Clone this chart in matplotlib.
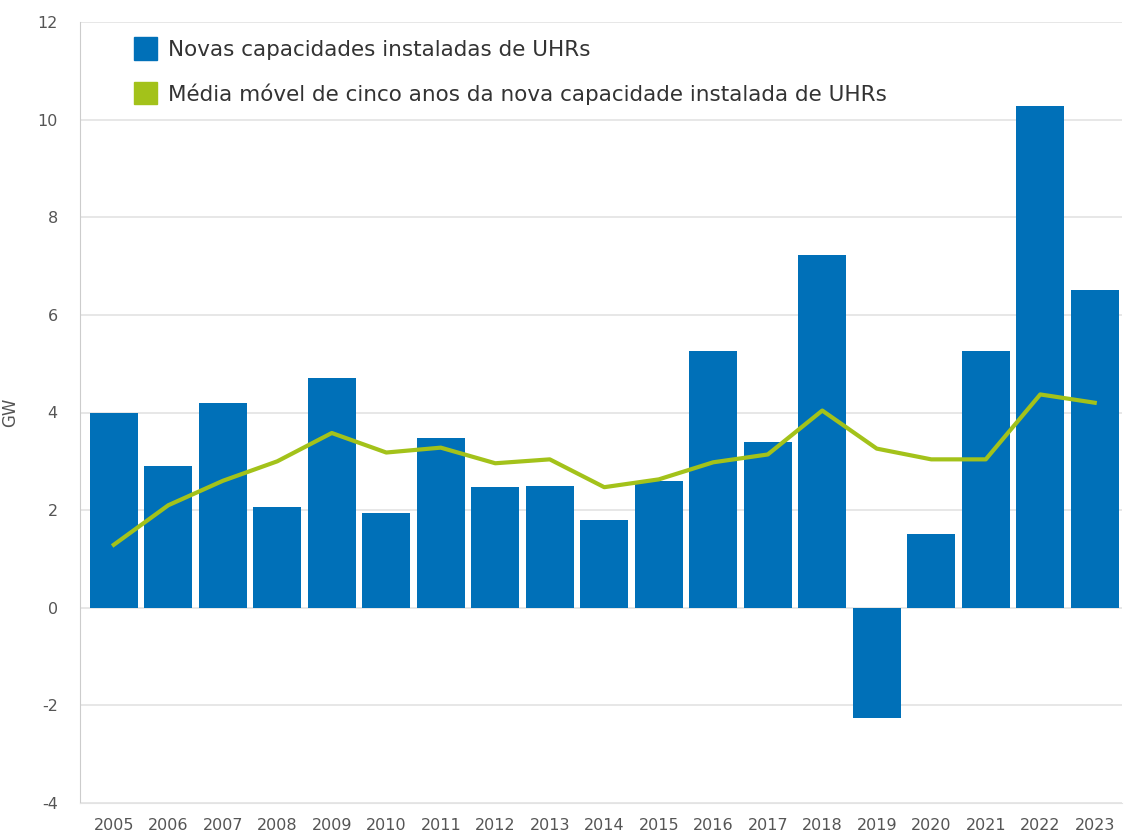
import matplotlib.pyplot as plt
import numpy as np

years = [str(y) for y in range(2005, 2024)]
new_capacity = [4.0, 2.9, 4.2, 2.06, 4.7, 1.94, 3.47, 2.47, 2.5, 1.8,
                2.6, 5.25, 3.4, 7.22, -2.25, 1.52, 5.25, 10.28, 6.5]
moving_avg = [1.29, 2.1, 2.6, 3.0, 3.58, 3.18, 3.28, 2.96, 3.04, 2.47,
              2.63, 2.98, 3.14, 4.04, 3.26, 3.04, 3.04, 4.37, 4.2]
legend_labels = ['Novas capacidades instaladas de UHRs',
                 'Média móvel de cinco anos da nova capacidade instalada de UHRs']

bar_color = '#0070b8'
line_color = '#a3c21a'
text_color = '#555555'

plt.rcParams['font.family'] = ['DejaVu Sans']
plt.rcParams['axes.unicode_minus'] = False

fig = plt.figure(figsize=(11.26, 8.34), dpi=100)
ax = fig.add_axes([80 / 1126, 1 - 803 / 834, 1042 / 1126, 781 / 834])

x = np.arange(len(years))
ax.bar(x, new_capacity, width=0.88, color=bar_color, zorder=2)
ax.plot(x, moving_avg, color=line_color, linewidth=3, zorder=3)

ax.set_xlim(-0.62, len(years) - 0.5)
ax.set_ylim(-4, 12)
ax.set_yticks(np.arange(-4, 13, 2))
ax.set_xticks(x)
ax.set_xticklabels(years)
ax.grid(axis='y', color='#e3e3e3', linewidth=1.2, zorder=0)

for side in ['top', 'right']:
    ax.spines[side].set_visible(False)
ax.spines['left'].set_color('#cccccc')
ax.spines['bottom'].set_color('#e3e3e3')
ax.tick_params(axis='both', length=0, colors=text_color, labelsize=11.5)
ax.tick_params(axis='y', pad=16)
ax.tick_params(axis='x', pad=11)
ax.set_ylabel('GW', color=text_color, fontsize=12)
ax.yaxis.set_label_coords(-0.058, 0.5)

# legend uses square swatches for both entries
proxy = [plt.Rectangle((0, 0), 1, 1, color=bar_color),
         plt.Rectangle((0, 0), 1, 1, color=line_color)]
ax.legend(proxy, legend_labels, loc='upper left', bbox_to_anchor=(0.033, 1.005),
          frameon=False, fontsize=15.5, handlelength=1.1, handleheight=1.2,
          labelspacing=1.05, handletextpad=0.5, labelcolor='#333333')

fig.savefig('out.png', dpi=100)
